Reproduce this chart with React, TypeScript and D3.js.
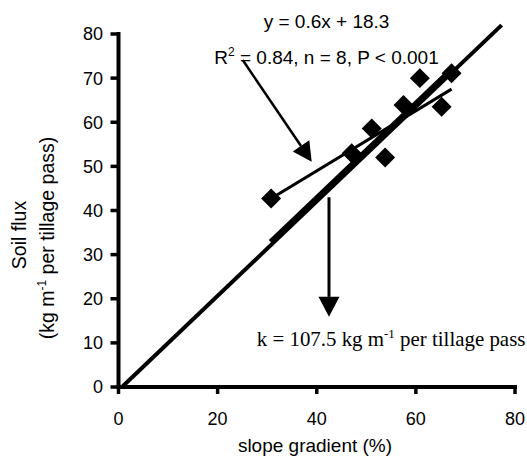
import React from "react";
import * as d3 from "d3";

const xTicks = [0, 20, 40, 60, 80];
const yTicks = [0, 10, 20, 30, 40, 50, 60, 70, 80];

const slopeX = [30.8, 47.05, 51.1, 53.8, 57.5, 60.8, 65.2, 67.2];
const fluxY = [42.7, 53.0, 58.6, 52.0, 63.9, 70.0, 63.5, 71.1];

const kLineX = [0.7, 77.3];
const kLineY = [0, 82.0];
const kLine2X = [30.6, 67.2];
const kLine2Y = [33.0, 72.2];
const regX = [30.8, 67.2];
const regY = [42.7, 67.5];

// annotation anchors (data units)
const arrow1 = { x0: 25.06, y0: 74.1, x1: 38.98, y1: 51.06 };
const arrow2 = { x0: 42.47, y0: 43.0, x1: 42.47, y1: 15.9 };
const eqPos = { x: 41.97, y1: 81.3, y2: 73.3 };
const kPos = { x: 27.9, y: 9.3 };

const W = 527;
const H = 460;

export default function App() {
  const x = d3.scaleLinear().domain([0, 80]).range([118.5, 515]);
  const y = d3.scaleLinear().domain([0, 80]).range([387, 34]);
  const line = d3
    .line<[number, number]>()
    .x((d) => x(d[0]))
    .y((d) => y(d[1]));
  const zip = (a: number[], b: number[]) => a.map((v, i) => [v, b[i]] as [number, number]);
  const diamond = d3.symbol().type(d3.symbolSquare).size(200)();
  const sans = "'Liberation Sans', Arial, Helvetica, sans-serif";
  const serif = "'Liberation Serif', 'Times New Roman', serif";

  const arrowHead = (x0: number, y0: number, x1: number, y1: number, len: number, hw: number) => {
    const ang = Math.atan2(y1 - y0, x1 - x0);
    const bx = x1 - len * Math.cos(ang);
    const by = y1 - len * Math.sin(ang);
    const px = -Math.sin(ang) * hw;
    const py = Math.cos(ang) * hw;
    const p = d3.path();
    p.moveTo(x1, y1);
    p.lineTo(bx + px, by + py);
    p.lineTo(bx - px, by - py);
    p.closePath();
    return { d: p.toString(), bx, by };
  };

  const a1 = arrowHead(x(arrow1.x0), y(arrow1.y0), x(arrow1.x1), y(arrow1.y1), 19, 10);
  const a2 = arrowHead(x(arrow2.x0), y(arrow2.y0), x(arrow2.x1), y(arrow2.y1), 20, 10.5);

  return (
    <svg
      width={W}
      height={H}
      style={{ position: "absolute", left: 0, top: 0, background: "#fff" }}
    >
      <rect width={W} height={H} fill="#fff" />
      {/* axes */}
      <line x1={x(0)} x2={x(0)} y1={y(0)} y2={y(80)} stroke="#000" strokeWidth={4} strokeLinecap="square" />
      <line x1={x(0)} x2={x(80)} y1={y(0)} y2={y(0)} stroke="#000" strokeWidth={4} strokeLinecap="square" />
      {yTicks.map((t) => (
        <g key={"y" + t}>
          <line x1={x(0) - 8} x2={x(0)} y1={y(t)} y2={y(t)} stroke="#000" strokeWidth={3.5} />
          <text
            x={103}
            y={y(t)}
            dy="0.36em"
            textAnchor="end"
            fontFamily={sans}
            fontSize={18}
          >
            {t}
          </text>
        </g>
      ))}
      {xTicks.map((t) => (
        <g key={"x" + t}>
          <line x1={x(t)} x2={x(t)} y1={y(0)} y2={y(0) + 7} stroke="#000" strokeWidth={3.5} />
          <text x={x(t)} y={425} textAnchor="middle" fontFamily={sans} fontSize={18}>
            {t}
          </text>
        </g>
      ))}

      {/* axis titles */}
      <text x={315} y={452} textAnchor="middle" fontFamily={sans} fontSize={19}>
        slope gradient (%)
      </text>
      <text
        transform="translate(26,235) rotate(-90)"
        textAnchor="middle"
        fontFamily={sans}
        fontSize={19.5}
      >
        Soil flux
      </text>
      <text
        transform="translate(54,238) rotate(-90)"
        textAnchor="middle"
        fontFamily={sans}
        fontSize={19.5}
      >
        (kg m
        <tspan fontSize={12} dy={-8}>
          -1
        </tspan>
        <tspan dy={8}> per tillage pass)</tspan>
      </text>

      {/* lines */}
      <path d={line(zip(kLineX, kLineY)) || ""} stroke="#000" strokeWidth={4} fill="none" />
      <path d={line(zip(kLine2X, kLine2Y)) || ""} stroke="#000" strokeWidth={4} fill="none" />
      <path d={line(zip(regX, regY)) || ""} stroke="#000" strokeWidth={3} fill="none" />

      {/* points */}
      {slopeX.map((v, i) => (
        <path
          key={"p" + i}
          d={diamond || ""}
          transform={`translate(${x(v)},${y(fluxY[i])}) rotate(45)`}
          fill="#000"
        />
      ))}

      {/* arrows */}
      <line x1={x(arrow1.x0)} y1={y(arrow1.y0)} x2={a1.bx} y2={a1.by} stroke="#000" strokeWidth={2.5} />
      <path d={a1.d} fill="#000" />
      <line x1={x(arrow2.x0)} y1={y(arrow2.y0)} x2={a2.bx} y2={a2.by} stroke="#000" strokeWidth={3} />
      <path d={a2.d} fill="#000" />

      {/* annotations */}
      <text x={x(eqPos.x)} y={y(eqPos.y1)} textAnchor="middle" fontFamily={sans} fontSize={19}>
        y = 0.6x + 18.3
      </text>
      <text x={x(eqPos.x)} y={y(eqPos.y2)} textAnchor="middle" fontFamily={sans} fontSize={19}>
        R
        <tspan fontSize={12} dy={-8}>
          2
        </tspan>
        <tspan dy={8}> = 0.84, n = 8, P &lt; 0.001</tspan>
      </text>
      <text x={x(kPos.x)} y={y(kPos.y)} fontFamily={serif} fontSize={20.9}>
        k = 107.5 kg m
        <tspan fontSize={13} dy={-8}>
          -1
        </tspan>
        <tspan dy={8}> per tillage pass</tspan>
      </text>
    </svg>
  );
}
